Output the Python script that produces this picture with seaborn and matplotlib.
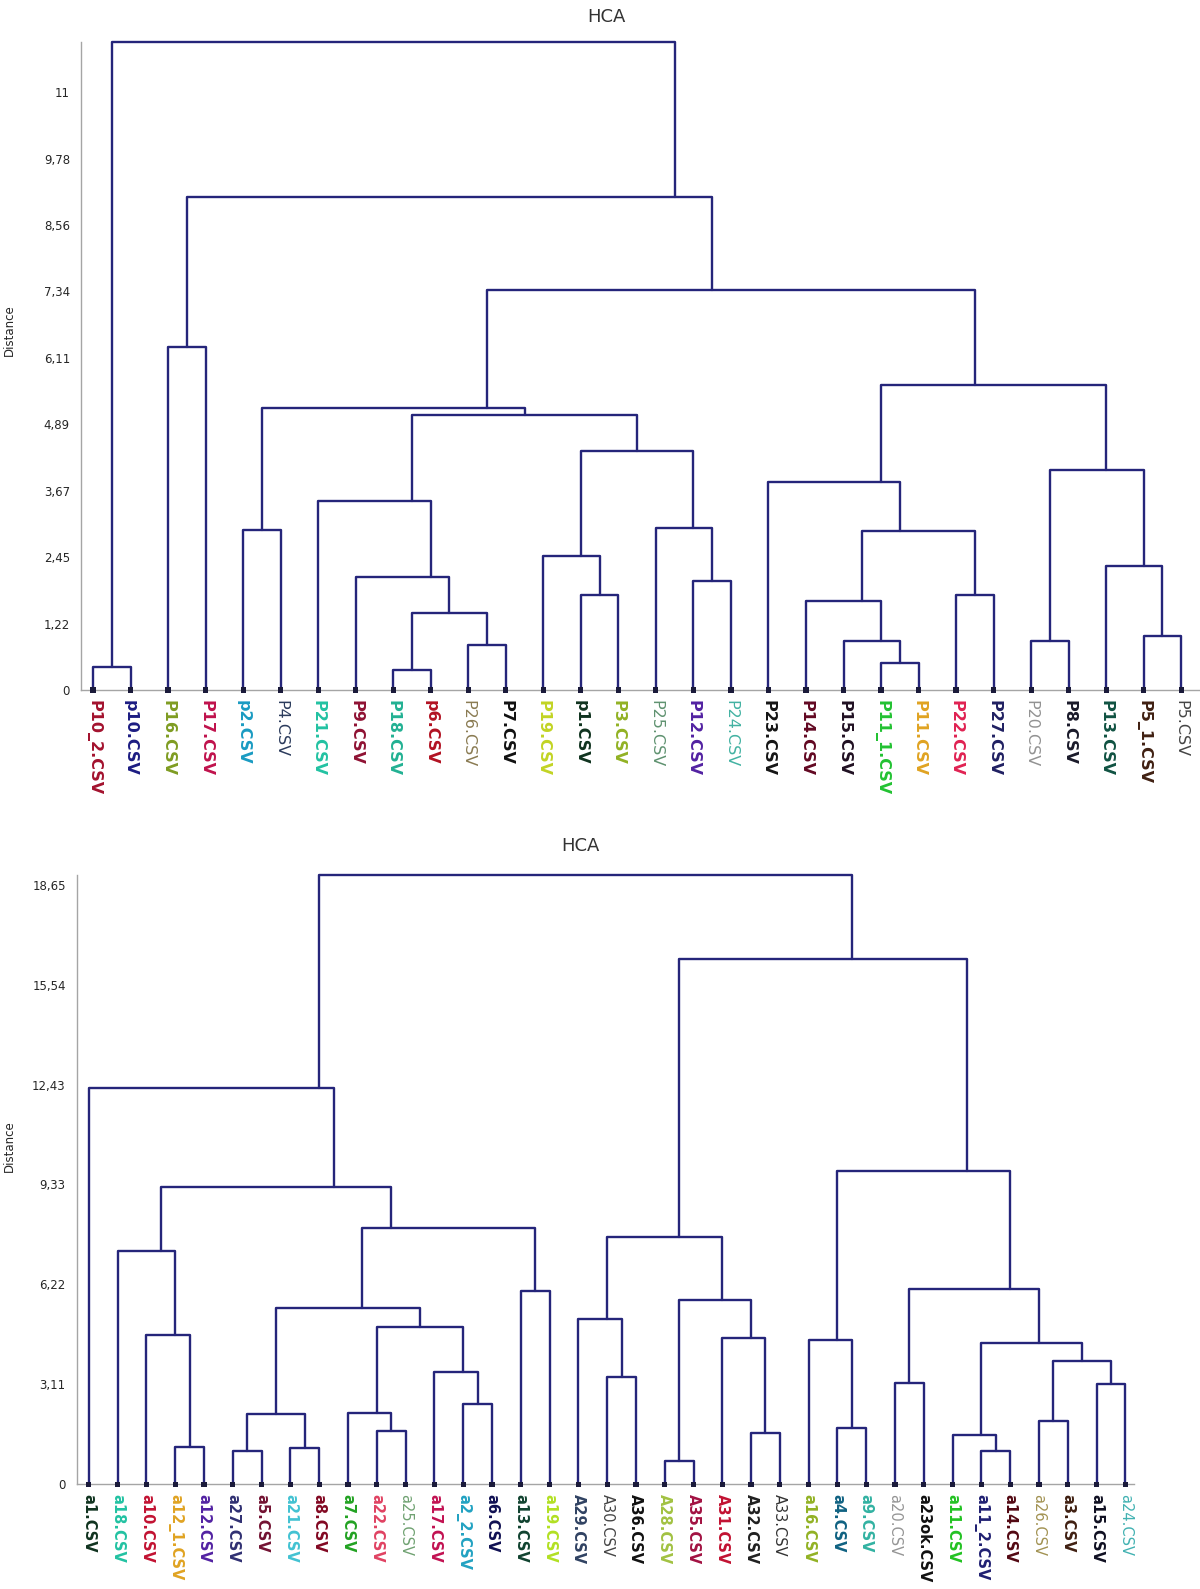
import matplotlib
matplotlib.use("Agg")
import matplotlib.pyplot as plt
import numpy as np
import pandas as pd
import seaborn as sns


# DATA  ---------------------------------------------------------------------------------

# Upper dendrogram: leaves in drawing order, label colours, merges (left, right, distance)
TOP_LEAVES = ["P10_2.CSV", "p10.CSV", "P16.CSV", "P17.CSV", "p2.CSV", "P4.CSV", "P21.CSV",
              "P9.CSV", "P18.CSV", "p6.CSV", "P26.CSV", "P7.CSV", "P19.CSV", "p1.CSV",
              "P3.CSV", "P25.CSV", "P12.CSV", "P24.CSV", "P23.CSV", "P14.CSV", "P15.CSV",
              "P11_1.CSV", "P11.CSV", "P22.CSV", "P27.CSV", "P20.CSV", "P8.CSV", "P13.CSV",
              "P5_1.CSV", "P5.CSV"]
TOP_COLORS = ["#a3122e", "#1c1c82", "#7f9c22", "#c0124c", "#1a9bc2", "#2b3b5c", "#22c2a2",
              "#8f1233", "#22b193", "#b21222", "#8a7b52", "#111111", "#c2d424", "#10331f",
              "#92b224", "#5f9270", "#5222a2", "#42b2a2", "#151515", "#620822", "#201022",
              "#22c232", "#e0a322", "#e02252", "#202062", "#929292", "#1a1a2a", "#105242",
              "#402012", "#454545"]
TOP_MERGES = [
    ("P10_2.CSV", "p10.CSV", 0.43),    # 0
    ("P16.CSV", "P17.CSV", 6.32),      # 1
    ("p2.CSV", "P4.CSV", 2.95),        # 2
    ("P18.CSV", "p6.CSV", 0.37),       # 3
    ("P26.CSV", "P7.CSV", 0.82),       # 4
    ("#3", "#4", 1.42),                # 5
    ("P9.CSV", "#5", 2.07),            # 6
    ("P21.CSV", "#6", 3.47),           # 7
    ("p1.CSV", "P3.CSV", 1.74),        # 8
    ("P19.CSV", "#8", 2.46),           # 9
    ("P12.CSV", "P24.CSV", 2.01),      # 10
    ("P25.CSV", "#10", 2.99),          # 11
    ("#9", "#11", 4.40),               # 12
    ("#7", "#12", 5.07),               # 13
    ("#2", "#13", 5.19),               # 14
    ("P11_1.CSV", "P11.CSV", 0.49),    # 15
    ("P15.CSV", "#15", 0.90),          # 16
    ("P14.CSV", "#16", 1.64),          # 17
    ("P22.CSV", "P27.CSV", 1.74),      # 18
    ("#17", "#18", 2.93),              # 19
    ("P23.CSV", "#19", 3.82),          # 20
    ("P20.CSV", "P8.CSV", 0.90),       # 21
    ("P5_1.CSV", "P5.CSV", 0.99),      # 22
    ("P13.CSV", "#22", 2.28),          # 23
    ("#21", "#23", 4.05),              # 24
    ("#20", "#24", 5.62),              # 25
    ("#14", "#25", 7.37),              # 26
    ("#1", "#26", 9.07),               # 27
    ("#0", "#27", 11.92),              # 28
]
TOP_TICKS = [0, 1.22, 2.45, 3.67, 4.89, 6.11, 7.34, 8.56, 9.78, 11]
TOP_TICK_LABELS = ["0", "1,22", "2,45", "3,67", "4,89", "6,11", "7,34", "8,56", "9,78", "11"]

# Lower dendrogram
BOT_LEAVES = ["a1.CSV", "a18.CSV", "a10.CSV", "a12_1.CSV", "a12.CSV", "a27.CSV", "a5.CSV",
              "a21.CSV", "a8.CSV", "a7.CSV", "a22.CSV", "a25.CSV", "a17.CSV", "a2_2.CSV",
              "a6.CSV", "a13.CSV", "a19.CSV", "A29.CSV", "A30.CSV", "A36.CSV", "A28.CSV",
              "A35.CSV", "A31.CSV", "A32.CSV", "A33.CSV", "a16.CSV", "a4.CSV", "a9.CSV",
              "a20.CSV", "a23ok.CSV", "a11.CSV", "a11_2.CSV", "a14.CSV", "a26.CSV", "a3.CSV",
              "a15.CSV", "a24.CSV"]
BOT_COLORS = ["#10331f", "#22c2a2", "#c21232", "#e0a322", "#5222a2", "#303072", "#721232",
              "#42c2d2", "#820822", "#22a222", "#e04262", "#70a272", "#c21252", "#22a2c2",
              "#101052", "#10422f", "#b2e022", "#304262", "#454545", "#111111", "#a2c242",
              "#a21242", "#c21232", "#202020", "#333333", "#92b224", "#106282", "#32b2a2",
              "#959595", "#111111", "#22c222", "#202072", "#520812", "#a29252", "#402012",
              "#101022", "#42b2b2"]
BOT_MERGES = [
    ("a12_1.CSV", "a12.CSV", 1.16),    # 0
    ("a10.CSV", "#0", 4.65),           # 1
    ("a18.CSV", "#1", 7.26),           # 2
    ("a27.CSV", "a5.CSV", 1.04),       # 3
    ("a21.CSV", "a8.CSV", 1.13),       # 4
    ("#3", "#4", 2.17),                # 5
    ("a22.CSV", "a25.CSV", 1.64),      # 6
    ("a7.CSV", "#6", 2.20),            # 7
    ("a2_2.CSV", "a6.CSV", 2.48),      # 8
    ("a17.CSV", "#8", 3.50),           # 9
    ("#7", "#9", 4.90),                # 10
    ("#5", "#10", 5.47),               # 11
    ("a13.CSV", "a19.CSV", 6.00),      # 12
    ("#11", "#12", 7.96),              # 13
    ("#2", "#13", 9.25),               # 14
    ("a1.CSV", "#14", 12.33),          # 15
    ("A30.CSV", "A36.CSV", 3.33),      # 16
    ("A29.CSV", "#16", 5.13),          # 17
    ("A28.CSV", "A35.CSV", 0.72),      # 18
    ("A32.CSV", "A33.CSV", 1.60),      # 19
    ("A31.CSV", "#19", 4.56),          # 20
    ("#18", "#20", 5.72),              # 21
    ("#17", "#21", 7.70),              # 22
    ("a4.CSV", "a9.CSV", 1.76),        # 23
    ("a16.CSV", "#23", 4.47),          # 24
    ("a20.CSV", "a23ok.CSV", 3.14),    # 25
    ("a11_2.CSV", "a14.CSV", 1.04),    # 26
    ("a11.CSV", "#26", 1.54),          # 27
    ("a26.CSV", "a3.CSV", 1.95),       # 28
    ("a15.CSV", "a24.CSV", 3.11),      # 29
    ("#28", "#29", 3.84),              # 30
    ("#27", "#30", 4.40),              # 31
    ("#25", "#31", 6.07),              # 32
    ("#24", "#32", 9.75),              # 33
    ("#22", "#33", 16.35),             # 34
    ("#15", "#34", 18.95),             # 35
]
BOT_TICKS = [0, 3.11, 6.22, 9.33, 12.43, 15.54, 18.65]
BOT_TICK_LABELS = ["0", "3,11", "6,22", "9,33", "12,43", "15,54", "18,65"]

# STYLE  --------------------------------------------------------------------------------

LINE_COLOR = "#25257a"
AXIS_COLOR = "#a5a5a5"
LIGHT_LABELS = {"P4.CSV", "P26.CSV", "P25.CSV", "P24.CSV", "P20.CSV", "P5.CSV",
                "a25.CSV", "A30.CSV", "A33.CSV", "a20.CSV", "a26.CSV", "a24.CSV"}


def dendrogram_frame(leaves, merges):
    """Turn a merge list into U-shaped segments; node x = mean of its leaf positions."""
    pos = {name: (float(i), 0.0) for i, name in enumerate(leaves)}
    members = {name: [i] for i, name in enumerate(leaves)}
    rows = []
    for k, (a, b, h) in enumerate(merges):
        xa, ya = pos[a]
        xb, yb = pos[b]
        for x, y in [(xa, ya), (xa, h), (xb, h), (xb, yb)]:
            rows.append({"seg": k, "x": x, "y": y})
        mem = members[a] + members[b]
        members["#%d" % k] = mem
        pos["#%d" % k] = (float(np.mean(mem)), h)
    return pd.DataFrame(rows)


def draw_panel(ax, leaves, colors, merges, ticks, tick_labels, xlim, label_size, title_pad, title_x):
    df = dendrogram_frame(leaves, merges)
    top = max(m[2] for m in merges)

    sns.lineplot(data=df, x="x", y="y", units="seg", estimator=None, sort=False,
                 color=LINE_COLOR, lw=1.7, ax=ax, legend=False)
    for line in ax.get_lines():
        line.set_clip_on(False)
    leaf_df = pd.DataFrame({"x": np.arange(len(leaves)), "y": np.zeros(len(leaves))})
    sns.scatterplot(data=leaf_df, x="x", y="y", marker="s", s=14, color="#1a1a3a",
                    edgecolor="none", ax=ax, clip_on=False, zorder=5, legend=False)

    ax.set_xlim(*xlim)
    ax.set_ylim(0, top)
    ax.set_yticks(ticks)
    ax.set_yticklabels(tick_labels, fontsize=8.5)
    ax.set_xticks(np.arange(len(leaves)))
    ax.set_xticklabels(leaves, rotation=-90, fontsize=label_size)
    for lab, col in zip(ax.get_xticklabels(), colors):
        lab.set_color(col)
        lab.set_fontweight("normal" if lab.get_text() in LIGHT_LABELS else "bold")
    ax.tick_params(axis="x", length=0, pad=7)
    ax.tick_params(axis="y", length=4, width=0.8, color=AXIS_COLOR, pad=4)

    sns.despine(ax=ax)
    for side in ["left", "bottom"]:
        ax.spines[side].set_color(AXIS_COLOR)
        ax.spines[side].set_linewidth(1.0)

    ax.set_xlabel("")
    ax.set_ylabel("Distance", fontsize=8.5)
    ax.yaxis.set_label_coords(-0.058, 0.555)
    ax.set_title("HCA", fontsize=13, color="#333333", x=title_x, pad=title_pad)


# MAIN SCRIPT  --------------------------------------------------------------------------

sns.set_style("white")
plt.rcParams["font.family"] = ["DejaVu Sans"]

fig = plt.figure(figsize=(12, 15.89), dpi=100)
ax_top = fig.add_axes([0.0675, 0.5658, 0.9325, 0.4075])
ax_bot = fig.add_axes([0.064, 0.066, 0.881, 0.3833])

draw_panel(ax_top, TOP_LEAVES, TOP_COLORS, TOP_MERGES, TOP_TICKS, TOP_TICK_LABELS,
           (-0.32, 29.5), 11.5, 15, 0.47)
draw_panel(ax_bot, BOT_LEAVES, BOT_COLORS, BOT_MERGES, BOT_TICKS, BOT_TICK_LABELS,
           (-0.42, 36.3), 10.5, 17, 0.476)

fig.savefig("out.png", dpi=100)
